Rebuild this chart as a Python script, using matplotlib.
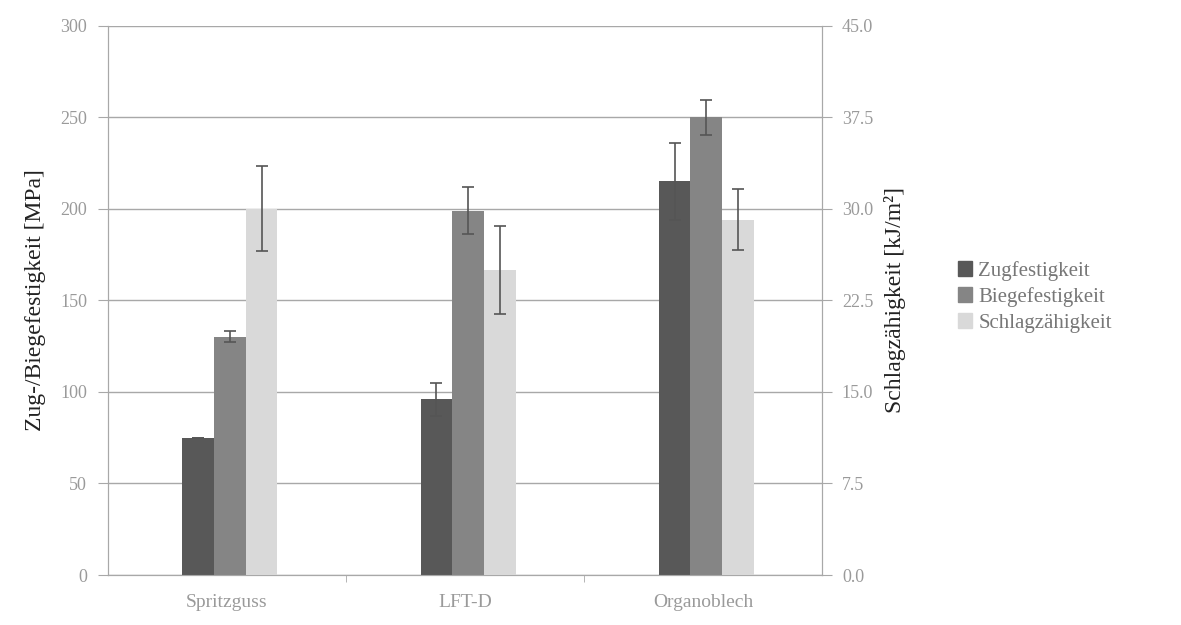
import numpy as np
import matplotlib.pyplot as plt
from matplotlib.patches import Patch

plt.rcParams['font.family'] = ['Liberation Serif', 'DejaVu Serif']

categories = ['Spritzguss', 'LFT-D', 'Organoblech']
zug = [75, 96, 215]
zug_err = [0, 9, 21]
biege = [130, 199, 250]
biege_err = [3, 13, 9.5]
schlag = [30.0, 25.0, 29.1]          # kJ/m², right axis
schlag_err = [3.5, 3.6, 2.5]

c_zug = '#585858'
c_biege = '#858585'
c_schlag = '#d9d9d9'
tick_col = '#9a9a9a'
grid_col = '#a8a8a8'

fig = plt.figure(figsize=(11.81, 6.25), dpi=100)
ax = fig.add_axes([0.0914, 0.08, 0.605, 0.879])
ax2 = ax.twinx()

x = np.arange(len(categories)) + 0.012
w = 0.133
ekw = dict(ecolor='#555555', elinewidth=1.2, capsize=4, capthick=1.2)

ax.bar(x - w, zug, w, color=c_zug, yerr=zug_err, error_kw=ekw, zorder=3)
ax.bar(x, biege, w, color=c_biege, yerr=biege_err, error_kw=ekw, zorder=3)
ax2.bar(x + w, schlag, w, color=c_schlag, yerr=schlag_err, error_kw=ekw, zorder=3)

ax.set_xlim(-0.5, 2.5)
ax.set_ylim(0, 300)
ax2.set_ylim(0, 45)
ax.set_yticks(np.arange(0, 301, 50))
ax2.set_yticks(np.arange(0, 45.1, 7.5))
ax2.set_yticklabels(['%.1f' % v for v in np.arange(0, 45.1, 7.5)])

ax.yaxis.grid(True, color=grid_col, linewidth=1.0, zorder=0)
ax.set_axisbelow(True)

ax.set_xticks(np.arange(len(categories)))
ax.set_xticklabels(categories)
ax.set_xticks([0.5, 1.5], minor=True)
ax.tick_params(axis='x', which='major', length=0, pad=14, labelsize=14, labelcolor=tick_col)
ax.tick_params(axis='x', which='minor', length=5, color=grid_col)
ax.tick_params(axis='y', length=7, color=grid_col, labelsize=13, labelcolor=tick_col, pad=8)
ax2.tick_params(axis='y', length=7, color=grid_col, labelsize=13, labelcolor=tick_col, pad=7)

for a in (ax, ax2):
    a.spines['top'].set_visible(False)
    a.spines['bottom'].set_color(grid_col)
    a.spines['left'].set_color(grid_col)
    a.spines['right'].set_color(grid_col)

ax.set_ylabel('Zug-/Biegefestigkeit [MPa]', fontsize=17, color='#222222', labelpad=10)
ax2.set_ylabel('Schlagzähigkeit [kJ/m²]', fontsize=17, color='#222222', labelpad=8)

handles = [Patch(color=c_zug), Patch(color=c_biege), Patch(color=c_schlag)]
fig.legend(handles, ['Zugfestigkeit', 'Biegefestigkeit', 'Schlagzähigkeit'],
           loc='center left', bbox_to_anchor=(0.795, 0.525), frameon=False,
           fontsize=15, handlelength=0.7, handleheight=0.7, handletextpad=0.3,
           labelspacing=0.3, labelcolor='#777777')

fig.savefig('out.png', dpi=100)
